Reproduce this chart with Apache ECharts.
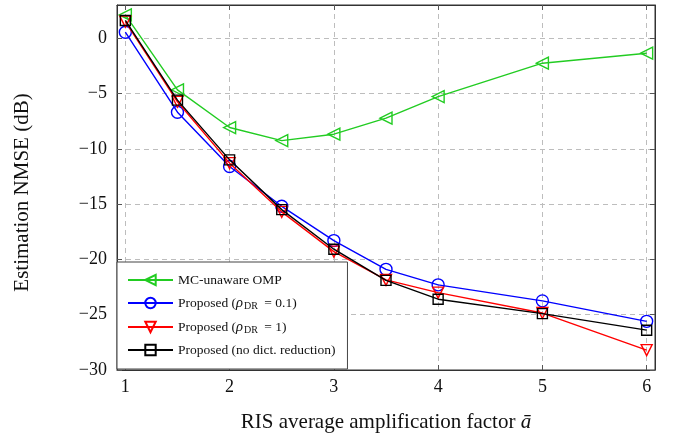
<!DOCTYPE html>
<html>
<head>
<meta charset="utf-8">
<script src="https://cdn.jsdelivr.net/npm/echarts@6/dist/echarts.min.js"></script>
<style>
html,body{margin:0;padding:0;background:#fff;}
#c{width:680px;height:441px;}
</style>
</head>
<body>
<div id="c"></div>
<script>
const xValues = [1, 1.5, 2, 2.5, 3, 3.5, 4, 5, 6];
const mcUnawareOMP = [2.1, -4.67, -8.08, -9.26, -8.68, -7.23, -5.28, -2.26, -1.36];
const proposedRho01 = [0.54, -6.69, -11.6, -15.2, -18.3, -20.9, -22.3, -23.75, -25.6];
const proposedRho1 = [1.5, -5.75, -11.3, -15.7, -19.3, -21.85, -23.0, -24.85, -28.2];
const proposedNoDR = [1.6, -5.6, -11.0, -15.5, -19.08, -21.9, -23.6, -24.9, -26.4];
const xTicks = [1, 2, 3, 4, 5, 6];
const yTicks = [-30, -25, -20, -15, -10, -5, 0];

const serif = '"Liberation Serif", "DejaVu Serif", serif';
const pair = arr => xValues.map((x, i) => [x, arr[i]]);

const chart = echarts.init(document.getElementById('c'), null, {renderer: 'canvas'});

function mkSeries(name, data, color, symbol, rot, size, z) {
  return {
    name, type: 'line', data: pair(data),
    xAxisIndex: 0, yAxisIndex: 0,
    symbol, symbolRotate: rot, symbolSize: size,
    showAllSymbol: true,
    lineStyle: {color, width: 1.4},
    itemStyle: {color: 'rgba(255,255,255,0)', borderColor: color, borderWidth: 1.4},
    emphasis: {disabled: true},
    z, animation: false
  };
}

const legendNames = {
  'MC-unaware OMP': '{t|MC-unaware OMP}',
  'Proposed (rho=0.1)': '{t|Proposed (}{i|ρ}{s|DR}{t| = 0.1)}',
  'Proposed (rho=1)': '{t|Proposed (}{i|ρ}{s|DR}{t| = 1)}',
  'Proposed (no dict. reduction)': '{t|Proposed (no dict. reduction)}'
};

const gridLine = {show: true, lineStyle: {color: '#bdbdbd', type: [5, 4], width: 1}};

chart.setOption({
  animation: false,
  backgroundColor: '#fff',
  grid: {left: 117, right: 25, top: 5, bottom: 71, show: true, borderColor: '#333', borderWidth: 1, backgroundColor: 'transparent'},
  xAxis: [{
    type: 'value', min: 0.92, max: 6.08, position: 'bottom',
    axisLine: {show: true, onZero: false, lineStyle: {color: '#333', width: 1}},
    axisTick: {show: true, inside: true, length: 5, customValues: xTicks, lineStyle: {color: '#555'}},
    axisLabel: {customValues: xTicks, color: '#111', fontFamily: serif, fontSize: 18, margin: 8},
    splitLine: gridLine,
    name: '{n|RIS average amplification factor }{i|ā}',
    nameLocation: 'middle', nameGap: 42,
    nameTextStyle: {rich: {
      n: {fontFamily: serif, fontSize: 21, color: '#111'},
      i: {fontFamily: serif, fontSize: 21, fontStyle: 'italic', color: '#111'}
    }}
  }, {
    type: 'value', min: 0.92, max: 6.08, position: 'top',
    axisLine: {show: true, onZero: false, lineStyle: {color: '#333'}},
    axisTick: {show: true, inside: true, length: 5, customValues: xTicks, lineStyle: {color: '#555'}},
    axisLabel: {show: false}, splitLine: {show: false}
  }],
  yAxis: [{
    type: 'value', min: -30, max: 3, position: 'left',
    axisLine: {show: true, onZero: false, lineStyle: {color: '#333', width: 1}},
    axisTick: {show: true, inside: true, length: 5, customValues: yTicks, lineStyle: {color: '#555'}},
    axisLabel: {customValues: yTicks, color: '#111', fontFamily: serif, fontSize: 18, margin: 10,
      formatter: v => String(v).replace('-', '\u2212')},
    splitLine: gridLine,
    name: 'Estimation NMSE (dB)', nameLocation: 'middle', nameGap: 84, nameRotate: 90,
    nameTextStyle: {fontFamily: serif, fontSize: 21, color: '#111', padding: [0, 10, 0, 0]}
  }, {
    type: 'value', min: -30, max: 3, position: 'right',
    axisLine: {show: true, onZero: false, lineStyle: {color: '#333'}},
    axisTick: {show: true, inside: true, length: 5, customValues: yTicks, lineStyle: {color: '#555'}},
    axisLabel: {show: false}, splitLine: {show: false}
  }],
  legend: {
    left: 117, top: 262, orient: 'vertical',
    backgroundColor: '#fff', borderColor: '#444', borderWidth: 1,
    padding: [11, 12, 12, 10], itemGap: 8,
    itemWidth: 45, itemHeight: 13,
    selectedMode: false,
    formatter: name => legendNames[name],
    textStyle: {rich: {
      t: {fontFamily: serif, fontSize: 13.5, color: '#111', lineHeight: 16},
      i: {fontFamily: serif, fontSize: 14.5, fontStyle: 'italic', color: '#111', lineHeight: 16},
      s: {fontFamily: serif, fontSize: 10, color: '#111', lineHeight: 16, verticalAlign: 'bottom', padding: [6, 3, 0, 1]}
    }},
    data: ['MC-unaware OMP', 'Proposed (rho=0.1)', 'Proposed (rho=1)', 'Proposed (no dict. reduction)'],
    z: 10
  },
  series: [
    mkSeries('MC-unaware OMP', mcUnawareOMP, '#22cc22', 'triangle', 90, 12, 2),
    mkSeries('Proposed (rho=0.1)', proposedRho01, '#0000ff', 'circle', 0, 12, 3),
    mkSeries('Proposed (rho=1)', proposedRho1, '#ff0000', 'triangle', 180, 11, 4),
    mkSeries('Proposed (no dict. reduction)', proposedNoDR, '#000000', 'rect', 0, 10, 5)
  ]
});
</script>
</body>
</html>
